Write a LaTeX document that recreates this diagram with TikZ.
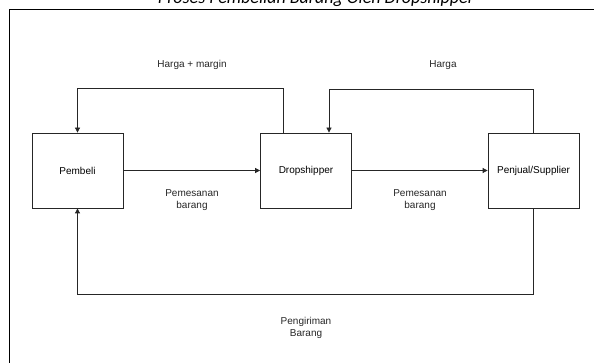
\documentclass[tikz,border=0pt]{standalone}
\usepackage{fontspec}
\setmainfont{Liberation Sans}
\newfontfamily\judulfont{Carlito}
\usetikzlibrary{positioning,arrows.meta}

\begin{document}
\begin{tikzpicture}[x=1pt, y=-1pt,
  every node/.style={font=\fontsize{10}{11.7}\selectfont},
  kotak/.style={draw=black!85, line width=0.8pt, minimum width=91pt, minimum height=75pt, inner sep=0pt},
  panah/.style={draw=black!85, line width=0.8pt, -{Triangle[length=5pt,width=5pt]}},
  label/.style={align=center, text=black!85}]
  \useasboundingbox (0,0) rectangle (594,363);
  \clip (0,0) rectangle (594,363);
  % --- frame and title ---
  \draw[line width=1.2pt] (600,9.5) -- (9.5,9.5) -- (9.5,370);
  \node[anchor=base, font=\judulfont\itshape\fontsize{18}{20}\selectfont] (judul) at (316,4)
    {Proses Pembelian Barang Oleh Dropshipper};
  % --- boxes ---
  \node[kotak] (pembeli) at (77.5,170.5) {Pembeli};
  \node[kotak] (drop) at (306,170.5) {Dropshipper};
  \node[kotak] (penjual) at (533.5,170.5) {Penjual/Supplier};
  % --- orders ---
  \draw[panah] (pembeli) -- (drop);
  \draw[panah] (drop) -- (penjual);
  \node[label] (pesan1) at (192,200) {Pemesanan\\barang};
  \node[label] (pesan2) at (420,200) {Pemesanan\\barang};
  % --- prices back ---
  \draw[panah] ([xshift=-23pt]drop.north) -- ++(0,-44) -| (pembeli.north);
  \node[label] (hargamargin) at (192,65) {Harga + margin};
  \draw[panah] (penjual.north) -- ++(0,-43) -| ([xshift=23pt]drop.north);
  \node[label] (harga) at (443,65) {Harga};
  % --- delivery ---
  \draw[panah] (penjual.south) -- ++(0,86) -| (pembeli.south);
  \node[label] (kirim) at (306,328) {Pengiriman\\Barang};
\end{tikzpicture}
\end{document}
